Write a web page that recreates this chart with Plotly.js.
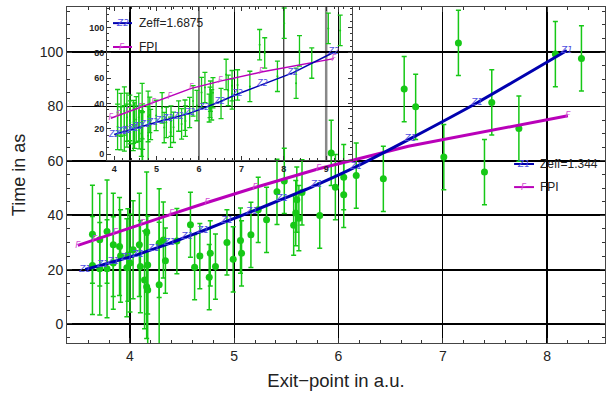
<!DOCTYPE html>
<html>
<head>
<meta charset="utf-8">
<script src="https://cdn.plot.ly/plotly-3.0.1.min.js"></script>
<style>html,body{margin:0;padding:0;background:#fff;}#chart{width:610px;height:397px;}</style>
</head>
<body>
<div id="chart"></div>
<script>
// ---- main data: exit point (a.u.), time (as), error ----
const mainX = [3.64,3.64,3.71,3.71,3.78,3.78,3.84,3.84,3.90,3.91,3.97,3.98,4.00,4.03,4.09,4.10,4.14,4.16,4.17,4.16,4.17,4.28,4.28,4.32,4.34,4.45,4.58,4.62,4.67,4.76,4.77,4.82,4.93,4.99,5.06,5.07,5.16,5.23,5.31,5.41,5.48,5.57,5.59,5.60,5.62,5.65,5.82,5.93,5.97,6.05,6.05,6.17,6.43,6.63,6.74,7.01,7.15,7.40,7.47,7.73,8.08,8.33];
const mainY = [33.0,21.5,31.0,20.3,34.0,20.3,29.1,22.4,28.5,25.0,20.7,25.4,22.4,27.3,29.1,21.1,16.2,33.9,21.7,13.7,12.5,14.4,29.7,30.9,23.3,30.5,36.5,20.9,25.0,17.2,26.0,21.1,30.0,23.8,30.7,26.0,32.8,42.0,38.3,48.6,52.6,36.3,40.8,45.7,38.9,48.4,39.9,62.9,50.3,54.0,47.5,54.6,53.4,86.4,79.9,61.4,103.4,55.9,81.5,71.9,99.3,97.7];
const mainErr = [18,18,17,17,19,18,19,17,18,17,18,17,18,18,19,17,18,22,18,19,21,23,20,14,12,12,12,12,12,12,12,12,12,12,12,12,12,12,12,12,12,11,12,12,12,12,12,12,12,12,12,12,12,12,12,12,12,12,12,12,12,12];
// inset: same measurements against the exit point for Zeff=1.6875
const insetX = [4.08,4.08,4.16,4.16,4.24,4.24,4.30,4.30,4.37,4.38,4.45,4.46,4.48,4.52,4.58,4.59,4.64,4.66,4.67,4.66,4.67,4.80,4.80,4.84,4.86,4.99,5.13,5.18,5.23,5.33,5.34,5.40,5.52,5.59,5.67,5.68,5.78,5.86,5.95,6.06,6.14,6.24,6.26,6.27,6.30,6.33,6.52,6.64,6.69,6.78,6.78,6.91,7.20,7.43,7.55,7.85,8.01,8.29,8.37,8.66,9.05,9.33];

// model curves, main plot
const z1X = [3.57,3.74,3.84,3.97,4.08,4.23,4.38,4.55,4.70,4.93,5.17,5.46,5.79,6.17,6.69,7.33,8.19];
const z1Y = [20.1,21.8,22.9,24.3,25.6,27.6,29.7,32.1,34.3,37.8,41.4,45.9,51.2,57.9,68.2,81.4,100.6];
const fpiX = [3.50,3.66,3.86,4.12,4.40,4.74,5.20,5.81,6.67,8.20];
const fpiY = [28.9,31.0,33.5,36.8,40.4,44.7,50.2,57.1,65.4,76.6];
const fpiTxt = ['F','F','F','F','F','F','F','F','','F'];
// model curves, inset
const z2X = [4.00,4.19,4.30,4.45,4.57,4.74,4.91,5.10,5.27,5.52,5.79,6.12,6.49,6.91,7.50,8.21,9.18];
const z2Y = [15.4,17.3,18.4,19.9,21.2,23.0,24.5,26.1,27.5,29.6,32.3,36.5,41.3,47.4,55.0,64.1,80.4];
const fpi2X = [3.92,4.10,4.32,4.61,4.93,5.31,5.82,6.50,7.47,9.18];
const fpi2Y = [28.3,30.5,33.1,36.6,40.5,45.4,51.9,57.6,64.8,75.4];

const xTicks = [4,5,6,7,8];
const yTicks = [0,20,40,60,80,100];
const xTicks2 = [4,5,6,7,8,9];
const yTicks2 = [0,20,40,60,80,100];

const GREEN = 'rgb(22,200,22)';
const BLUE = 'rgb(0,0,175)';
const MAG = 'rgb(185,0,185)';
const MKFONT_B = {family:'DejaVu Sans', size:9, color:'rgb(80,80,225)', style:'italic'};
const MKFONT_M = {family:'DejaVu Sans', size:9, color:'rgb(210,80,210)', style:'italic'};

const traces = [
  {x: mainX, y: mainY, type:'scatter', mode:'markers', xaxis:'x', yaxis:'y',
   marker:{color:GREEN, size:7},
   error_y:{type:'data', array:mainErr, visible:true, color:GREEN, thickness:1.5, width:2.5},
   cliponaxis:true, showlegend:false},
  {x: fpiX, y: fpiY, type:'scatter', mode:'lines+text', text: fpiTxt, textposition:'middle center',
   textfont: MKFONT_M, line:{color:MAG, width:3}, xaxis:'x', yaxis:'y', showlegend:false},
  {x: z1X, y: z1Y, type:'scatter', mode:'lines+text', text: z1X.map(()=>'Z1'), textposition:'middle center',
   textfont: MKFONT_B, line:{color:BLUE, width:3, shape:'spline', smoothing:0.6}, xaxis:'x', yaxis:'y', showlegend:false},
  {x: insetX, y: mainY, type:'scatter', mode:'markers', xaxis:'x2', yaxis:'y2',
   marker:{color:GREEN, size:2},
   error_y:{type:'data', array:mainErr, visible:true, color:GREEN, thickness:1.3, width:2.5},
   showlegend:false},
  {x: fpi2X, y: fpi2Y, type:'scatter', mode:'lines+text', text: fpi2X.map(()=>'F'), textposition:'middle center',
   textfont: {family:'DejaVu Sans', size:8, color:'rgb(210,80,210)', style:'italic'},
   line:{color:MAG, width:1.5}, xaxis:'x2', yaxis:'y2', showlegend:false},
  {x: z2X, y: z2Y, type:'scatter', mode:'lines+text', text: z2X.map(()=>'Z2'), textposition:'middle center',
   textfont: {family:'DejaVu Sans', size:8, color:'rgb(80,80,225)', style:'italic'},
   line:{color:BLUE, width:1.5}, xaxis:'x2', yaxis:'y2', showlegend:false}
];

const FONT = {family:'Liberation Sans, Arial, sans-serif', color:'#222'};
const lbl = (x,y,t,sz)=>({xref:'paper', yref:'paper', x:x, y:y, text:t, showarrow:false,
   xanchor:'left', yanchor:'middle', font:{family:'Liberation Sans', size:sz, color:'#222'}});
const mk = (x,y,t,f)=>({xref:'paper', yref:'paper', x:x, y:y, text:t, showarrow:false,
   xanchor:'center', yanchor:'middle', font:f});
const seg = (x0,x1,y,c,w)=>({type:'line', xref:'paper', yref:'paper', x0:x0, x1:x1, y0:y, y1:y, line:{color:c, width:w}});
const vgrid2 = (x,c,w)=>({type:'line', xref:'x2', yref:'y2 domain', x0:x, x1:x, y0:0, y1:1, line:{color:c, width:w}, layer:'below'});

const layout = {
  width:610, height:397,
  margin:{l:67, r:5, t:7, b:54},
  paper_bgcolor:'#fff', plot_bgcolor:'rgba(0,0,0,0)',
  font: FONT,
  showlegend:false,
  xaxis:{range:[3.396,8.556], tickvals:xTicks, ticktext:xTicks.map(String), ticks:'inside', ticklen:5, tickcolor:'#333',
    minor:{dtick:0.2, ticks:'inside', ticklen:3, tickcolor:'#333', showgrid:false},
    showline:true, linecolor:'#444', linewidth:1, mirror:'ticks',
    showgrid:true, gridcolor:'#000', gridwidth:1.2, zeroline:false,
    tickfont:{family:'Liberation Sans', size:14, color:'#222'},
    title:{text:'Exit\u2212point in a.u.', font:{family:'Liberation Sans', size:18.5, color:'#222'}, standoff:11}},
  yaxis:{range:[-7,116.6], tickvals:yTicks, ticktext:yTicks.map(String), ticks:'inside', ticklen:5, tickcolor:'#333',
    minor:{dtick:5, ticks:'inside', ticklen:3, tickcolor:'#333', showgrid:false},
    showline:true, linecolor:'#444', linewidth:1, mirror:'ticks',
    showgrid:true, gridcolor:'#000', gridwidth:1.8, zeroline:false,
    tickfont:{family:'Liberation Sans', size:14, color:'#222'},
    title:{text:'Time in as', font:{family:'Liberation Sans', size:18, color:'#222'}, standoff:9}},
  xaxis2:{domain:[0.0743,0.5297], anchor:'y2', range:[3.83,9.608], tickvals:xTicks2, ticktext:xTicks2.map(String),
    ticks:'inside', ticklen:4, tickcolor:'#333',
    minor:{dtick:0.2, ticks:'inside', ticklen:2, tickcolor:'#333', showgrid:false},
    showline:true, linecolor:'#444', linewidth:1, mirror:'ticks', showgrid:false, zeroline:false,
    tickfont:{family:'Liberation Sans', size:9, color:'#222', weight:'bold'}},
  yaxis2:{domain:[0.5446,1], anchor:'x2', range:[-4.74,116.2], tickvals:yTicks2, ticktext:yTicks2.map(String),
    ticks:'inside', ticklen:4, tickcolor:'#333',
    minor:{dtick:5, ticks:'inside', ticklen:2, tickcolor:'#333', showgrid:false},
    showline:true, linecolor:'#444', linewidth:1, mirror:'ticks', showgrid:false, zeroline:false,
    tickfont:{family:'Liberation Sans', size:9, color:'#222', weight:'bold'}},
  shapes:[
    vgrid2(6,'#000',1), vgrid2(8,'#000',1), vgrid2(9,'#888',2.5),
    seg(0.831,0.868,0.5327,BLUE,2), seg(0.831,0.868,0.464,MAG,2),
    seg(0.0855,0.1208,0.952,BLUE,2), seg(0.0855,0.1208,0.881,MAG,2)
  ],
  annotations:[
    mk(0.849,0.5327,'Z1',MKFONT_B), lbl(0.875,0.5327,'Zeff=1.344',12),
    mk(0.849,0.464,'F',MKFONT_M), lbl(0.875,0.464,'FPI',12),
    mk(0.103,0.952,'Z2',MKFONT_B), lbl(0.130,0.952,'Zeff=1.6875',12),
    mk(0.103,0.881,'F',MKFONT_M), lbl(0.130,0.881,'FPI',12)
  ]
};

Plotly.newPlot('chart', traces, layout, {displayModeBar:false, staticPlot:true});
</script>
</body>
</html>
